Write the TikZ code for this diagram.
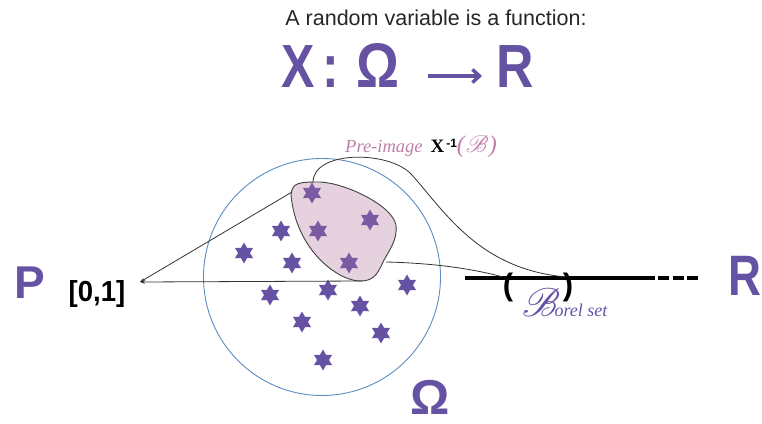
\documentclass[tikz,border=0pt]{standalone}
\usepackage{fontspec}
\setmainfont{Liberation Sans}
\newfontfamily\serifit{Liberation Serif}
\usetikzlibrary{shapes.geometric,arrows.meta}
\DeclareFontFamily{U}{rsfsany}{}
\DeclareFontShape{U}{rsfsany}{m}{n}{<-> rsfs10}{}
\newcommand{\scrB}{{\usefont{U}{rsfsany}{m}{n}B}}
\definecolor{vio}{HTML}{6652A3}
\definecolor{starin}{HTML}{7C5AA2}
\definecolor{regfill}{HTML}{E6D1DE}
\definecolor{pinkt}{HTML}{C07FAB}
\definecolor{circ}{HTML}{5B8CC2}
\definecolor{lin}{HTML}{333333}
\newcommand{\fsz}[1]{\fontsize{#1}{#1}\selectfont}
\begin{document}
\begin{tikzpicture}[x=1pt,y=-1pt,
  star6/.style={star,star points=6,star point ratio=1.75,minimum size=21pt,inner sep=0pt,fill=vio,draw=none},
  star6in/.style={star6,fill=starin},
  bigv/.style={text=vio,inner sep=0pt,font=\bfseries\fsz{#1}},
  conn/.style={draw=lin,line width=0.8pt},
  tip/.style={-{Stealth[length=5pt,width=3.5pt]}}
]
\useasboundingbox (0,0) rectangle (762,423);

% title
\node[anchor=base,inner sep=0pt,font=\fsz{21.5},text=black!85] (title) at (436,25) {A random variable is a function:};
\node[bigv=61,anchor=base] (X) at (298.5,87) {\scalebox{0.82}[1]{X}};
\node[bigv=61,anchor=base] (colon) at (331,87) {\scalebox{0.82}[1]{:}};
\node[bigv=63,anchor=base] (Om) at (378,87) {\scalebox{0.85}[1]{Ω}};
\node[bigv=61,anchor=base] (Rt) at (515,87) {\scalebox{0.85}[1]{R}};
\coordinate (ar1) at (428,76);
\coordinate (ar2) at (482,76);
\draw[vio,line width=3.5pt,-{Straight Barb[length=7pt,width=13pt,line width=3.5pt]}] (ar1) -- (ar2);

% sample space
\node[draw=circ,line width=0.9pt,circle,minimum size=237pt,inner sep=0pt] (omega) at (322,277) {};
\node[bigv=49,anchor=base] (OmL) at (430,414) {Ω};

% stars outside
\foreach \p [count=\i] in {(244,253),(281,231),(292,263),(270,295),(328,290),(360,306),(407,285),(302,322),(381,333),(323,360)}
  \node[star6] (s\i) at \p {};

% pre-image region
\draw[draw=black!75,line width=0.9pt,fill=regfill]
  (291,195) .. controls (292,182) and (300,182) .. (320,182)
  .. controls (345,183) and (392,205) .. (396,225)
  .. controls (398,240) and (388,252) .. (383,262)
  .. controls (377,276) and (372,281) .. (360,281)
  .. controls (338,281) and (296,250) .. (291,195) -- cycle;
\foreach \p [count=\i] in {(312,193),(370,220),(318,231),(349,263)}
  \node[star6in] (t\i) at \p {};

\coordinate (rA) at (292,192);
\coordinate (rB) at (362,281);
\coordinate (rT) at (313,183);
\coordinate (rR) at (386,262);

% P and [0,1]
\node[bigv=46,anchor=base west] (P) at (14,298) {P};
\node[anchor=base,inner sep=0pt,font=\bfseries\fsz{29}] (unit) at (97,301) {\scalebox{0.95}[1]{[0,1]}};
\coordinate (tipP) at (140,282);
\draw[conn,tip] (rA) -- (tipP);
\draw[conn,tip] (rB) -- (tipP);

% real line
\coordinate (l1) at (465,278);
\coordinate (l2) at (655,278);
\coordinate (l3) at (658,278);
\coordinate (l4) at (698,278);
\draw[line width=3.5pt] (l1) -- (l2);
\draw[line width=3.5pt,dash pattern=on 11pt off 3.5pt] (l3) -- (l4);
\node[inner sep=0pt,font=\bfseries\fsz{31}] (lp) at (508,287) {(};
\node[inner sep=0pt,font=\bfseries\fsz{31}] (rp) at (568,287) {)};
\node[bigv=57,anchor=base west] (Rr) at (728,295) {\scalebox{0.8}[1]{R}};

% Borel set label
\node[anchor=base west,inner sep=0pt,text=vio] (borel) at (522,316) {\fsz{40}\scrB\kern-4pt{\serifit\itshape\fsz{18}orel set}};

% pre-image label
\node[anchor=base west,inner sep=0pt] (pre) at (345,152) {{\serifit\itshape\fsz{18.5}\color{pinkt}Pre-image}\hspace{8pt}{\serifit\bfseries\fsz{19}X}\raisebox{5pt}{\bfseries\fsz{12}\,-1}{\color{pinkt}\serifit\itshape\fsz{24}(\kern1pt{\fsz{24}\scrB}\kern1pt)}};

% connectors from region to Borel set
\coordinate (bR) at (567,277);
\coordinate (bL) at (503,277);
\draw[conn] (rT) .. controls (312,150) and (390,150) .. (412,175) .. controls (445,212) and (480,270) .. (bR);
\draw[conn] (rR) .. controls (430,263) and (470,268) .. (bL);
\end{tikzpicture}
\end{document}
